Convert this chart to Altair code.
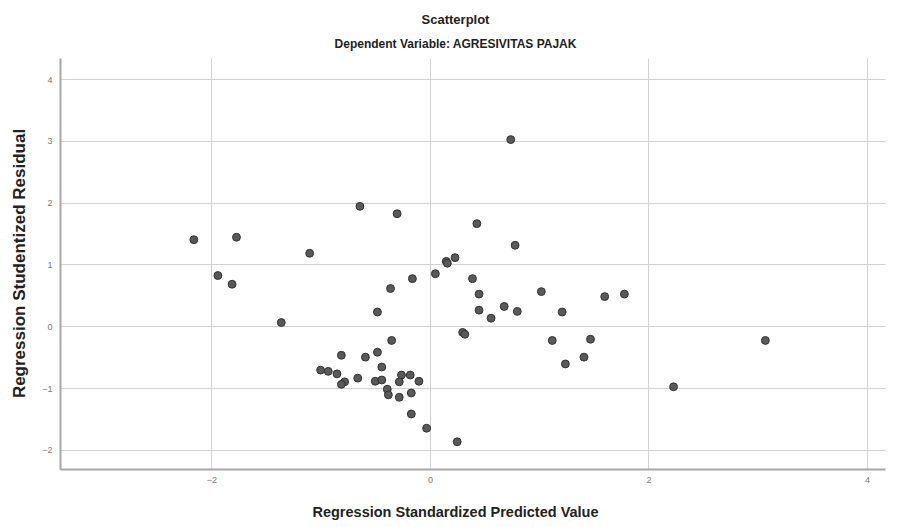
import altair as alt
import pandas as pd

# Regression Standardized Predicted Value
pred = [-2.16, -1.77, -1.94, -1.81, -1.36, -1.10, -0.64, -0.30, 0.74, 0.43,
        0.78, 0.15, 0.23, 0.05, -0.16, -0.36, 0.39, 0.45, 1.02, 1.60,
        1.78, 0.45, 0.68, 0.80, 0.56, 1.21, 0.30, -0.35, 1.12, 1.47,
        -0.48, 1.41, 1.24, 2.23, 3.07, -0.81, -0.59, -0.48, -0.44, -1.00,
        -0.93, -0.85, -0.78, -0.81, -0.66, -0.50, -0.44, -0.26, -0.18, -0.28,
        -0.10, -0.39, -0.38, -0.28, -0.17, -0.17, -0.03, 0.25, 0.16, 0.32]
# Regression Studentized Residual
resid = [1.40, 1.44, 0.82, 0.68, 0.06, 1.18, 1.94, 1.82, 3.02, 1.66,
         1.31, 1.05, 1.11, 0.85, 0.77, 0.61, 0.77, 0.52, 0.56, 0.48,
         0.52, 0.26, 0.32, 0.24, 0.13, 0.23, -0.10, -0.23, -0.23, -0.21,
         0.23, -0.50, -0.61, -0.98, -0.23, -0.47, -0.50, -0.42, -0.66, -0.71,
         -0.73, -0.77, -0.90, -0.94, -0.84, -0.89, -0.87, -0.79, -0.79, -0.90,
         -0.89, -1.02, -1.11, -1.15, -1.08, -1.42, -1.65, -1.87, 1.02, -0.13]

x_ticks = [-2, 0, 2, 4]
y_ticks = [-2, -1, 0, 1, 2, 3, 4]

df = pd.DataFrame({"pred": pred, "resid": resid})

FONT = "Liberation Sans"

chart = alt.Chart(df).mark_point(
    filled=True, fill="#595959", stroke="#333333", strokeWidth=1,
    size=62, opacity=1
).encode(
    x=alt.X("pred:Q", scale=alt.Scale(domain=[-3.385, 4.165], nice=False, zero=False),
            axis=alt.Axis(values=x_ticks, title="Regression Standardized Predicted Value",
                          titleX=395, titleY=36, titleBaseline="top",
                          titleFontSize=14.5, titleFontWeight="bold",
                          titleColor="#222222", titleFont=FONT,
                          labelFontSize=9, labelColor="#777777", labelFont=FONT,
                          labelPadding=6, ticks=False, domainColor="#a8a8a8",
                          domainWidth=2, gridColor="#d2d2d2", gridWidth=1)),
    y=alt.Y("resid:Q", scale=alt.Scale(domain=[-2.31, 4.34], nice=False, zero=False),
            axis=alt.Axis(values=y_ticks, title="Regression Studentized Residual",
                          titleX=-32, titleY=205, titleFontSize=17, titleFontWeight="bold",
                          titleColor="#222222", titleFont=FONT, titleAngle=270,
                          labelFontSize=9, labelColor="#777777", labelFont=FONT,
                          labelPadding=8, ticks=False, domainColor="#a8a8a8",
                          domainWidth=2, gridColor="#d2d2d2", gridWidth=1)),
).properties(
    width=825, height=411,
    title=alt.TitleParams(text="Scatterplot", subtitle="Dependent Variable: AGRESIVITAS PAJAK",
                          font=FONT, fontSize=13, fontWeight="bold", color="#222222",
                          subtitleFont=FONT, subtitleFontSize=12, subtitleFontWeight="bold",
                          subtitleColor="#222222", subtitlePadding=12,
                          anchor="middle", dx=-17, offset=8),
    autosize=alt.AutoSizeParams(type="none"),
    padding={"left": 52, "top": 50, "right": 6, "bottom": 56},
    background="white",
).configure_view(stroke=None)

chart.save("out.html", embed_options={"renderer": "svg", "actions": False})
